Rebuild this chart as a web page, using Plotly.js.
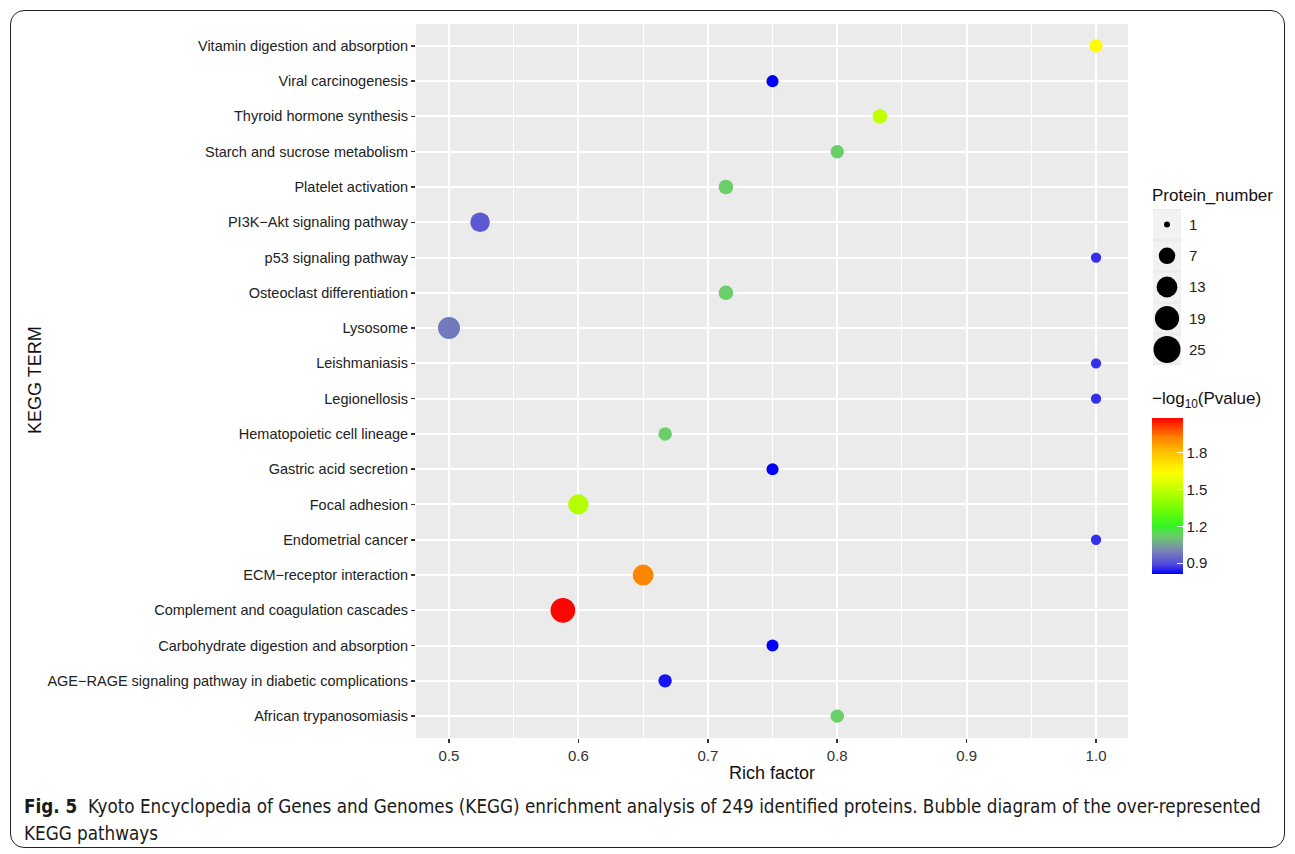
<!DOCTYPE html>
<html><head><meta charset="utf-8">
<script src="https://cdn.plot.ly/plotly-3.0.1.min.js"></script>
<style>
body{margin:0;background:#fff;}
#wrap{position:relative;width:1295px;height:854px;}
#chart{width:1295px;height:854px;}
#frame{position:absolute;left:10px;top:10px;width:1273px;height:836px;border:1px solid #222;border-radius:14px;pointer-events:none;}
</style>
</head><body><div id="wrap"><div id="chart"></div><div id="frame"></div></div>
<script>
// ---- data (top to bottom as shown) ----
const terms = [
  "Vitamin digestion and absorption",
  "Viral carcinogenesis",
  "Thyroid hormone synthesis",
  "Starch and sucrose metabolism",
  "Platelet activation",
  "PI3K\u2212Akt signaling pathway",
  "p53 signaling pathway",
  "Osteoclast differentiation",
  "Lysosome",
  "Leishmaniasis",
  "Legionellosis",
  "Hematopoietic cell lineage",
  "Gastric acid secretion",
  "Focal adhesion",
  "Endometrial cancer",
  "ECM\u2212receptor interaction",
  "Complement and coagulation cascades",
  "Carbohydrate digestion and absorption",
  "AGE\u2212RAGE signaling pathway in diabetic complications",
  "African trypanosomiasis"
];
const richFactor = [1.0, 0.75, 0.833, 0.8, 0.714, 0.524, 1.0, 0.714, 0.5, 1.0, 1.0, 0.667, 0.75, 0.6, 1.0, 0.65, 0.588, 0.75, 0.667, 0.8];
const proteinNumber = [4, 3, 5, 4, 5, 11, 2, 5, 15, 2, 2, 4, 3, 12, 2, 13, 20, 3, 4, 4];
const negLog10P = [1.65, 0.81, 1.50, 1.12, 1.12, 0.92, 0.86, 1.12, 0.98, 0.86, 0.86, 1.12, 0.81, 1.47, 0.86, 1.92, 2.08, 0.81, 0.83, 1.12];
const sizeBreaks = [1, 7, 13, 19, 25];
const colorTicks = [0.9, 1.2, 1.5, 1.8];
const xTicks = [0.5, 0.6, 0.7, 0.8, 0.9, 1.0];

// ---- scales ----
const W = 1295, H = 854;
const px = v => v / W;
const py = v => 1 - v / H;
const sizeScale = n => 6 + 21 * Math.sqrt((n - 1) / 24);
const cMin = 0.81, cMax = 2.086;
const colorscale = [
  [0.00, '#0000ff'],
  [0.06, '#5048e0'],
  [0.15, '#7a84b4'],
  [0.24, '#6ccc6c'],
  [0.31, '#33f522'],
  [0.45, '#88ff00'],
  [0.55, '#c8ff00'],
  [0.65, '#ffff00'],
  [0.78, '#ffc000'],
  [0.88, '#ff8000'],
  [1.00, '#ff0000']
];
const font = 'Liberation Sans, Arial, Helvetica, sans-serif';
const capFont = 'Liberation Sans Narrow, DejaVu Sans Condensed, Arial Narrow, sans-serif';

const main = {
  type: 'scatter', mode: 'markers',
  x: richFactor, y: terms, xaxis: 'x', yaxis: 'y',
  opacity: 1,
  marker: {
    size: proteinNumber.map(sizeScale), sizemode: 'diameter',
    color: negLog10P, colorscale: colorscale, cmin: cMin, cmax: cMax,
    line: {width: 0}, opacity: 1,
    showscale: true,
    colorbar: {
      x: px(1152), xanchor: 'left', xpad: 0,
      y: py(496), yanchor: 'middle', ypad: 0,
      len: 156, lenmode: 'pixels', thickness: 31, thicknessmode: 'pixels',
      outlinewidth: 0,
      tickvals: colorTicks, ticktext: colorTicks.map(v => v.toFixed(1)),
      ticks: 'inside', ticklen: 6, tickcolor: '#ffffff', tickwidth: 1,
      tickfont: {family: font, size: 15, color: '#222'}
    }
  },
  hoverinfo: 'x+y', showlegend: false
};

const legendTrace = {
  type: 'scatter', mode: 'markers',
  x: sizeBreaks.map(() => 0.5), y: sizeBreaks.map((_, i) => i),
  xaxis: 'x2', yaxis: 'y2',
  opacity: 1,
  marker: {size: sizeBreaks.map(sizeScale), sizemode: 'diameter', color: '#000000', opacity: 1, line: {width: 0}},
  hoverinfo: 'skip', showlegend: false
};

const shapes = sizeBreaks.map((_, i) => ({
  type: 'rect', xref: 'x2', yref: 'y2', x0: 0, x1: 1, y0: i - 0.46, y1: i + 0.46,
  fillcolor: '#f2f2f2', line: {width: 0}, layer: 'below'
}));

const annotations = [
  {text: 'Rich factor', xref: 'paper', yref: 'paper', x: px(772), y: py(773), showarrow: false,
   xanchor: 'center', yanchor: 'middle', font: {family: font, size: 18, color: '#111'}},
  {text: 'KEGG TERM', xref: 'paper', yref: 'paper', x: px(35), y: py(380), showarrow: false, textangle: -90,
   xanchor: 'center', yanchor: 'middle', font: {family: font, size: 18, color: '#111'}},
  {text: 'Protein_number', xref: 'paper', yref: 'paper', x: px(1150), y: py(195), showarrow: false,
   xanchor: 'left', yanchor: 'middle', font: {family: font, size: 17, color: '#111'}},
  {text: '\u2212log<sub>10</sub>(Pvalue)', xref: 'paper', yref: 'paper', x: px(1150), y: py(400), showarrow: false,
   xanchor: 'left', yanchor: 'middle', font: {family: font, size: 17, color: '#111'}},
  {text: '<b>Fig. 5</b>  Kyoto Encyclopedia of Genes and Genomes (KEGG) enrichment analysis of 249 identified proteins. Bubble diagram of the over-represented',
   xref: 'paper', yref: 'paper', x: px(22), y: py(806), showarrow: false, xanchor: 'left', yanchor: 'middle',
   font: {family: capFont, size: 18.7, color: '#1a1a1a'}},
  {text: 'KEGG pathways', xref: 'paper', yref: 'paper', x: px(22), y: py(833), showarrow: false, xanchor: 'left', yanchor: 'middle',
   font: {family: capFont, size: 18.7, color: '#1a1a1a'}}
].concat(sizeBreaks.map((b, i) => ({
  text: String(b), xref: 'paper', yref: 'y2', x: px(1187), y: i, showarrow: false,
  xanchor: 'left', yanchor: 'middle', font: {family: font, size: 15, color: '#222'}
})));

const layout = {
  width: W, height: H,
  margin: {l: 0, r: 0, t: 0, b: 0, pad: 0},
  paper_bgcolor: '#ffffff', plot_bgcolor: '#ebebeb',
  showlegend: false,
  xaxis: {
    domain: [px(416), px(1128)], range: [0.4745, 1.0247], anchor: 'y',
    tickvals: xTicks, ticktext: xTicks.map(v => v.toFixed(1)),
    showgrid: true, gridcolor: '#ffffff', gridwidth: 2,
    minor: {tickvals: [0.55, 0.65, 0.75, 0.85, 0.95], showgrid: true, gridcolor: '#ffffff', gridwidth: 1, ticks: ''},
    zeroline: false, showline: false,
    ticks: 'outside', ticklen: 4, tickwidth: 1.5, tickcolor: '#333',
    tickfont: {family: font, size: 15, color: '#333'},
    fixedrange: true
  },
  yaxis: {
    domain: [py(738), py(24)], anchor: 'x',
    type: 'category', categoryorder: 'array', categoryarray: terms,
    range: [19.62, -0.62],
    showgrid: true, gridcolor: '#ffffff', gridwidth: 2,
    zeroline: false, showline: false,
    ticks: 'outside', ticklen: 4, tickwidth: 1.5, tickcolor: '#333',
    tickfont: {family: font, size: 14.5, color: '#222'},
    fixedrange: true
  },
  xaxis2: {domain: [px(1153), px(1181)], range: [0, 1], anchor: 'y2', visible: false, showgrid: false, zeroline: false, fixedrange: true},
  yaxis2: {domain: [py(365), py(209)], range: [4.5, -0.5], anchor: 'x2', visible: false, showgrid: false, zeroline: false, fixedrange: true},
  shapes: shapes,
  annotations: annotations
};

Plotly.newPlot('chart', [main, legendTrace], layout, {displayModeBar: false, staticPlot: true});
</script>
</body></html>
